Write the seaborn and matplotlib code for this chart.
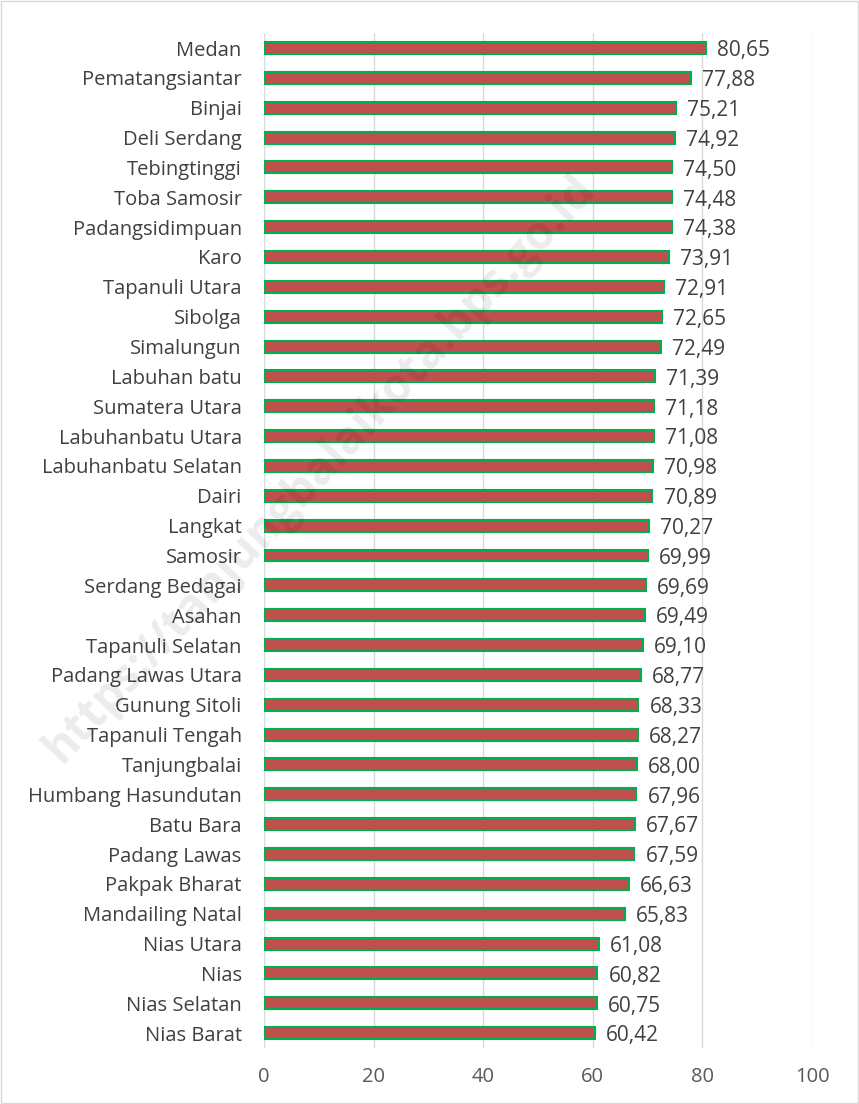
import matplotlib
matplotlib.use("Agg")
import matplotlib.pyplot as plt
import seaborn as sns
import pandas as pd
from matplotlib.patches import Rectangle

regions = ["Medan", "Pematangsiantar", "Binjai", "Deli Serdang", "Tebingtinggi",
           "Toba Samosir", "Padangsidimpuan", "Karo", "Tapanuli Utara", "Sibolga",
           "Simalungun", "Labuhan batu", "Sumatera Utara", "Labuhanbatu Utara",
           "Labuhanbatu Selatan", "Dairi", "Langkat", "Samosir", "Serdang Bedagai",
           "Asahan", "Tapanuli Selatan", "Padang Lawas Utara", "Gunung Sitoli",
           "Tapanuli Tengah", "Tanjungbalai", "Humbang Hasundutan", "Batu Bara",
           "Padang Lawas", "Pakpak Bharat", "Mandailing Natal", "Nias Utara", "Nias",
           "Nias Selatan", "Nias Barat"]
values = [80.65, 77.88, 75.21, 74.92, 74.50, 74.48, 74.38, 73.91, 72.91, 72.65,
          72.49, 71.39, 71.18, 71.08, 70.98, 70.89, 70.27, 69.99, 69.69, 69.49,
          69.10, 68.77, 68.33, 68.27, 68.00, 67.96, 67.67, 67.59, 66.63, 65.83,
          61.08, 60.82, 60.75, 60.42]
xticks = [0, 20, 40, 60, 80, 100]

df = pd.DataFrame({"region": regions, "value": values})

sns.set_theme(style="white")
plt.rcParams["font.family"] = ["Open Sans", "DejaVu Sans"]

fig = plt.figure(figsize=(8.59, 11.04), dpi=100)
ax = fig.add_axes([0.3073, 0.0507, 0.6380, 0.9193])

sns.barplot(data=df, x="value", y="region", orient="h", color="#C0504D",
            saturation=1, width=0.4, edgecolor="#00B050", linewidth=1.5, ax=ax)

ax.set_xlim(0, 100)
ax.set_ylim(len(regions) - 0.5, -0.5)
ax.set_xticks(xticks)
ax.set_xticklabels([str(t) for t in xticks], fontsize=14.5, color="#595959")
ax.tick_params(axis="y", labelsize=14.5, labelcolor="#404040", length=0, pad=16)
ax.tick_params(axis="x", length=0, pad=14)
ax.set_xlabel("")
ax.set_ylabel("")
ax.grid(axis="x", color="#D9D9D9", linewidth=1)
ax.set_axisbelow(True)
for s in ax.spines.values():
    s.set_visible(False)

for i, v in enumerate(values):
    ax.annotate(f"{v:.2f}".replace(".", ","), (v, i), xytext=(8, -2),
                textcoords="offset points", va="center", ha="left",
                fontsize=15, color="#404040")

# watermark
fig.text(0.372, 0.575, "https://tanjungbalaikota.bps.go.id", rotation=47,
         ha="center", va="center", fontsize=33, color="#000000", alpha=0.08,
         fontweight="bold", zorder=5)

fig.patches.append(Rectangle((0.001, 0.001), 0.998, 0.998, transform=fig.transFigure,
                             fill=False, edgecolor="#D9D9D9", linewidth=1))

fig.savefig("out.png", dpi=100)
